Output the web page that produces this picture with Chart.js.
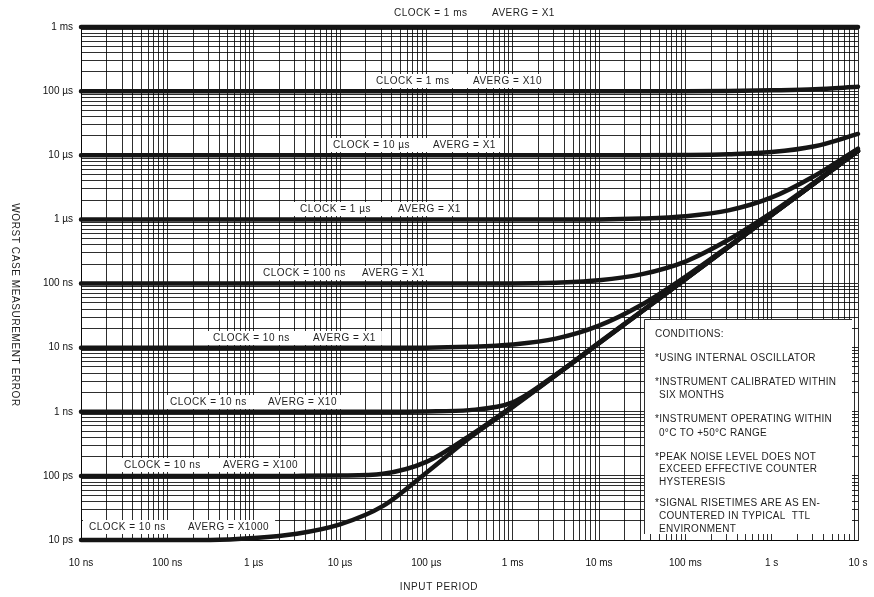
<!DOCTYPE html>
<html>
<head>
<meta charset="utf-8">
<title>Worst case measurement error vs input period</title>
<script src="https://cdn.jsdelivr.net/npm/chart.js@4/dist/chart.umd.min.js"></script>
<style>
  html, body { margin: 0; padding: 0; background: #fff; }
  canvas { display: block; }
</style>
</head>
<body>
<canvas id="chart" width="874" height="597"></canvas>
<script>
// Input period sample points (seconds), half-decade steps from 10 ns to 10 s
const periods = [1e-8, 3.16e-8, 1e-7, 3.16e-7, 1e-6, 3.16e-6, 1e-5, 3.16e-5, 1e-4, 3.16e-4,
                 1e-3, 3.16e-3, 1e-2, 3.16e-2, 1e-1, 3.16e-1, 1, 3.16, 10];

// Worst case measurement error (seconds) for each clock / averaging setting
const errClock1msX1   = [1e-3, 1e-3, 1e-3, 1e-3, 1e-3, 1e-3, 1e-3, 1e-3, 1e-3, 1e-3,
                         1e-3, 1e-3, 1e-3, 1e-3, 1e-3, 1e-3, 1e-3, 1e-3, 1e-3];
const errClock1msX10  = [1e-4, 1e-4, 1e-4, 1e-4, 1e-4, 1e-4, 1e-4, 1e-4, 1e-4, 1e-4,
                         1e-4, 1e-4, 1e-4, 1e-4, 1e-4, 1.005e-4, 1.03e-4, 1.07e-4, 1.17e-4];
const errClock10usX1  = [1e-5, 1e-5, 1e-5, 1e-5, 1e-5, 1e-5, 1e-5, 1e-5, 1e-5, 1e-5,
                         1e-5, 1e-5, 1e-5, 1e-5, 1.01e-5, 1.04e-5, 1.12e-5, 1.38e-5, 2.15e-5];
const errClock1usX1   = [1e-6, 1e-6, 1e-6, 1e-6, 1e-6, 1e-6, 1e-6, 1e-6, 1e-6, 1e-6,
                         1e-6, 1e-6, 1e-6, 1.03e-6, 1.12e-6, 1.38e-6, 2.2e-6, 4.8e-6, 1.27e-5];
const errClock100nsX1 = [1e-7, 1e-7, 1e-7, 1e-7, 1e-7, 1e-7, 1e-7, 1e-7, 1e-7, 1e-7,
                         1e-7, 1.03e-7, 1.12e-7, 1.4e-7, 2.2e-7, 4.8e-7, 1.27e-6, 3.8e-6, 1.18e-5];
const errClock10nsX1  = [1e-8, 1e-8, 1e-8, 1e-8, 1e-8, 1e-8, 1e-8, 1e-8, 1e-8, 1.03e-8,
                         1.12e-8, 1.38e-8, 2.2e-8, 4.7e-8, 1.27e-7, 3.8e-7, 1.18e-6, 3.71e-6, 1.17e-5];
const errClock10nsX10 = [1e-9, 1e-9, 1e-9, 1e-9, 1e-9, 1e-9, 1e-9, 1e-9, 1.01e-9, 1.06e-9,
                         1.4e-9, 3.8e-9, 1.2e-8, 3.75e-8, 1.17e-7, 3.7e-7, 1.17e-6, 3.7e-6, 1.17e-5];
const errClock10nsX100 = [1e-10, 1e-10, 1e-10, 1e-10, 1e-10, 1e-10, 1.01e-10, 1.08e-10, 1.65e-10, 4.2e-10,
                          1.22e-9, 3.72e-9, 1.17e-8, 3.7e-8, 1.17e-7, 3.7e-7, 1.17e-6, 3.7e-6, 1.17e-5];
const errClock10nsX1000 = [1e-11, 1e-11, 1e-11, 1e-11, 1.07e-11, 1.25e-11, 1.75e-11, 3.4e-11, 1.12e-10, 3.9e-10,
                           1.18e-9, 3.7e-9, 1.17e-8, 3.7e-8, 1.17e-7, 3.7e-7, 1.17e-6, 3.7e-6, 1.17e-5];

// Curve captions: clock setting and averaging factor
const clockNames = ['CLOCK = 1 ms', 'CLOCK = 1 ms', 'CLOCK = 10 µs', 'CLOCK = 1 µs', 'CLOCK = 100 ns',
                    'CLOCK = 10 ns', 'CLOCK = 10 ns', 'CLOCK = 10 ns', 'CLOCK = 10 ns'];
const avergNames = ['AVERG = X1', 'AVERG = X10', 'AVERG = X1', 'AVERG = X1', 'AVERG = X1',
                    'AVERG = X1', 'AVERG = X10', 'AVERG = X100', 'AVERG = X1000'];
const curveSeries = [errClock1msX1, errClock1msX10, errClock10usX1, errClock1usX1, errClock100nsX1,
                     errClock10nsX1, errClock10nsX10, errClock10nsX100, errClock10nsX1000];

// Axis tick labels, one per decade
const xTickLabels = ['10 ns', '100 ns', '1 µs', '10 µs', '100 µs', '1 ms', '10 ms', '100 ms', '1 s', '10 s'];
const yTickLabels = ['10 ps', '100 ps', '1 ns', '10 ns', '100 ns', '1 µs', '10 µs', '100 µs', '1 ms'];

const xTitle = 'INPUT PERIOD';
const yTitle = 'WORST CASE MEASUREMENT ERROR';
const conditionLines = [
  'CONDITIONS:',
  '*USING INTERNAL OSCILLATOR',
  '*INSTRUMENT CALIBRATED WITHIN',
  ' SIX MONTHS',
  '*INSTRUMENT OPERATING WITHIN',
  ' 0°C TO +50°C RANGE',
  '*PEAK NOISE LEVEL DOES NOT',
  ' EXCEED EFFECTIVE COUNTER',
  ' HYSTERESIS',
  '*SIGNAL RISETIMES ARE AS EN-',
  ' COUNTERED IN TYPICAL  TTL',
  ' ENVIRONMENT'
];

// ---- layout (pixels) ----
const FONT = "'Liberation Sans', Arial, Helvetica, sans-serif";
const INK = '#151515';
const TEXT = '#1e1e1e';
const GRID = 'rgba(0,0,0,0.82)';
// caption placement: [x of clock text, x of averaging text, centre y]
const captionPos = [[394, 492, 13], [376, 473, 81], [333, 433, 145], [300, 398, 209], [263, 362, 273],
                    [213, 313, 338], [170, 268, 402], [124, 223, 465], [89, 188, 527]];
const condLineY = [334, 358, 382, 395, 419, 433, 457, 469, 482, 503, 516, 529];
const condBox = {x0: 644, y0: 319, x1: 852, y1: 534};

// log grid: every integer multiple within each decade
function logTicks(eMin, eMax) {
  const t = [];
  for (let e = eMin; e < eMax; e++) {
    for (let m = 1; m <= 9; m++) t.push({value: m * Math.pow(10, e), major: m === 1});
  }
  t.push({value: Math.pow(10, eMax), major: true});
  return t;
}
function decadeIndex(v, eMin) {
  const l = Math.log10(v);
  const r = Math.round(l);
  return Math.abs(l - r) < 1e-6 ? r - eMin : -1;
}

const overlay = {
  id: 'overlay',
  beforeDatasetsDraw(chart) {
    const ctx = chart.ctx;
    ctx.save();
    // conditions panel
    ctx.fillStyle = '#fff';
    ctx.fillRect(condBox.x0, condBox.y0, condBox.x1 - condBox.x0, condBox.y1 - condBox.y0);
    ctx.strokeStyle = GRID;
    ctx.lineWidth = 1;
    ctx.beginPath();
    ctx.moveTo(condBox.x0 + 0.5, condBox.y1);
    ctx.lineTo(condBox.x0 + 0.5, condBox.y0 + 0.5);
    ctx.lineTo(condBox.x1, condBox.y0 + 0.5);
    ctx.stroke();
    ctx.fillStyle = TEXT;
    ctx.font = '10px ' + FONT;
    ctx.letterSpacing = '0.3px';
    ctx.textBaseline = 'middle';
    ctx.textAlign = 'left';
    conditionLines.forEach((s, i) => {
      const indent = s.startsWith(' ') ? 4 : 0;
      ctx.fillText(s.trim(), condBox.x0 + 11 + indent, condLineY[i]);
    });
    // curve captions on white strips
    ctx.font = '10px ' + FONT;
    ctx.letterSpacing = '0.5px';
    captionPos.forEach((p, i) => {
      const w2 = ctx.measureText(avergNames[i]).width;
      if (i > 0) {
        ctx.fillStyle = '#fff';
        ctx.fillRect(p[0] - 6, p[2] - 7, p[1] + w2 - p[0] + 12, 14);
      }
      ctx.fillStyle = TEXT;
      ctx.fillText(clockNames[i], p[0], p[2]);
      ctx.fillText(avergNames[i], p[1], p[2]);
    });
    ctx.restore();
  },
  afterDraw(chart) {
    const ctx = chart.ctx;
    ctx.save();
    ctx.fillStyle = TEXT;
    ctx.font = '10px ' + FONT;
    ctx.letterSpacing = '0.6px';
    ctx.textAlign = 'center';
    ctx.textBaseline = 'middle';
    ctx.fillText(xTitle, 439, 587);
    ctx.translate(15, 305);
    ctx.rotate(Math.PI / 2);
    ctx.fillText(yTitle, 0, 0);
    ctx.restore();
  }
};

const datasets = curveSeries.map((vals, i) => ({
  label: clockNames[i] + ' ' + avergNames[i],
  data: periods.map((p, j) => ({x: p, y: vals[j]})),
  borderColor: INK,
  borderWidth: 4.5,
  pointRadius: 0,
  fill: false,
  cubicInterpolationMode: 'monotone',
  borderCapStyle: 'round',
  clip: 8
}));

new Chart(document.getElementById('chart'), {
  type: 'line',
  data: {datasets},
  options: {
    responsive: false,
    animation: false,
    devicePixelRatio: 1,
    layout: {padding: {top: 27, right: 16, left: 0, bottom: 0}},
    plugins: {legend: {display: false}, tooltip: {enabled: false}},
    scales: {
      x: {
        type: 'logarithmic',
        min: 1e-8, max: 10,
        afterBuildTicks(s) { s.ticks = logTicks(-8, 1); },
        afterFit(s) { s.height = 57; s.paddingLeft = 0; s.paddingRight = 0; },
        grid: {drawTicks: false, color: GRID, lineWidth: 1},
        border: {display: true, color: GRID, width: 1},
        ticks: {
          autoSkip: false, maxRotation: 0, minRotation: 0, padding: 17,
          color: '#111', font: {family: FONT, size: 10},
          callback(v) { const k = decadeIndex(v, -8); return k >= 0 ? xTickLabels[k] : ''; }
        }
      },
      y: {
        type: 'logarithmic',
        min: 1e-11, max: 1e-3,
        afterBuildTicks(s) { s.ticks = logTicks(-11, -3); },
        afterFit(s) { s.width = 81; s.paddingTop = 0; s.paddingBottom = 0; },
        grid: {drawTicks: false, color: GRID, lineWidth: 1},
        border: {display: true, color: GRID, width: 1},
        ticks: {
          autoSkip: false, padding: 8,
          color: '#111', font: {family: FONT, size: 10},
          callback(v) { const k = decadeIndex(v, -11); return k >= 0 ? yTickLabels[k] : ''; }
        }
      }
    }
  },
  plugins: [overlay]
});
</script>
</body>
</html>
